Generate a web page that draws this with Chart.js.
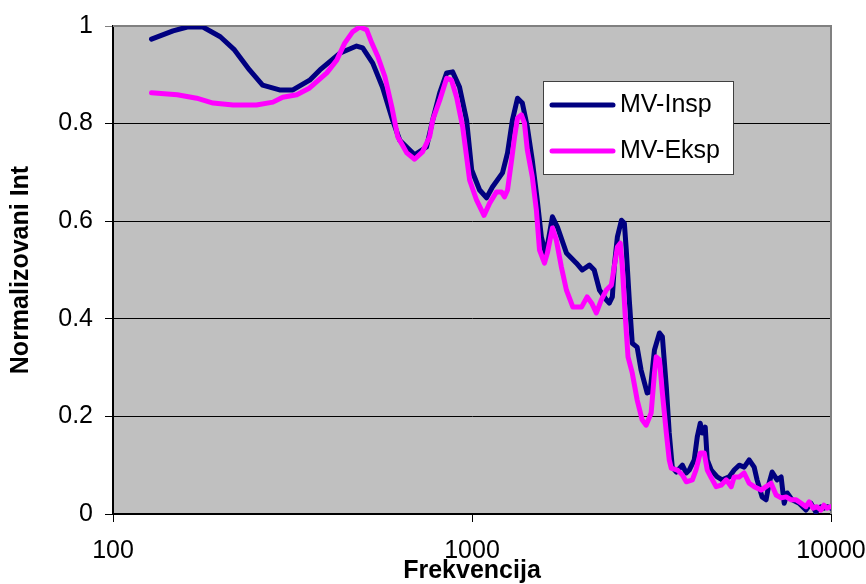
<!DOCTYPE html>
<html>
<head>
<meta charset="utf-8">
<script src="https://cdn.jsdelivr.net/npm/chart.js@4.4.1/dist/chart.umd.min.js"></script>
<style>
  html, body { margin: 0; padding: 0; background: #fff; }
</style>
</head>
<body>
<canvas id="chart" width="866" height="584"></canvas>
<script>
// frequency (Hz) and normalized intensity
const inspFreq = [128, 147, 161, 178, 199, 218, 240, 261, 291, 317,
                  353, 377, 428, 477, 496, 529, 563, 601, 629, 692,
                  747, 777, 813, 850, 883, 923, 966, 998, 1050, 1098,
                  1140, 1216, 1256, 1296, 1339, 1381, 1426, 1472, 1520, 1560,
                  1605, 1675, 1730, 1832, 1954, 2029, 2123, 2190, 2265, 2366,
                  2412, 2460, 2490, 2541, 2608, 2657, 2690, 2742, 2795, 2884,
                  2958, 3075, 3133, 3223, 3328, 3391, 3478, 3543, 3613, 3707,
                  3855, 3953, 4029, 4160, 4241, 4323, 4379, 4464, 4522, 4640,
                  4820, 4977, 5203, 5373, 5548, 5729, 5916, 6109, 6224, 6427,
                  6594, 6722, 6855, 7078, 7263, 7406, 7552, 7797, 8150, 8514,
                  8790, 9073, 9371, 9554, 9750, 10000];
const inspVal  = [0.973, 0.990, 0.998, 0.998, 0.978, 0.951, 0.910, 0.879, 0.869, 0.869,
                  0.889, 0.910, 0.944, 0.959, 0.955, 0.924, 0.875, 0.807, 0.766, 0.736,
                  0.752, 0.807, 0.863, 0.904, 0.906, 0.875, 0.807, 0.705, 0.664, 0.648,
                  0.670, 0.699, 0.740, 0.807, 0.852, 0.842, 0.793, 0.725, 0.643, 0.568,
                  0.531, 0.609, 0.588, 0.535, 0.514, 0.500, 0.510, 0.500, 0.459, 0.439,
                  0.432, 0.445, 0.506, 0.568, 0.602, 0.596, 0.541, 0.439, 0.350, 0.342,
                  0.295, 0.248, 0.250, 0.336, 0.371, 0.363, 0.260, 0.166, 0.096, 0.086,
                  0.100, 0.084, 0.090, 0.111, 0.158, 0.186, 0.166, 0.178, 0.111, 0.090,
                  0.076, 0.070, 0.076, 0.090, 0.100, 0.096, 0.111, 0.096, 0.070, 0.035,
                  0.029, 0.063, 0.086, 0.070, 0.076, 0.022, 0.043, 0.029, 0.022, 0.008,
                  0.022, 0.004, 0.015, 0.012, 0.015, 0.012];

const ekspFreq = [128, 151, 171, 190, 216, 251, 279, 297, 325, 353,
                  394, 420, 442, 465, 487, 509, 526, 547, 572, 598,
                  621, 658, 692, 728, 762, 777, 813, 850, 877, 906,
                  942, 985, 1030, 1080, 1120, 1170, 1208, 1232, 1256, 1289,
                  1314, 1339, 1373, 1400, 1426, 1472, 1511, 1542, 1592, 1622,
                  1675, 1718, 1774, 1832, 1910, 2019, 2093, 2155, 2220, 2292,
                  2366, 2444, 2490, 2541, 2589, 2623, 2673, 2720, 2795, 2884,
                  2978, 3055, 3155, 3223, 3260, 3328, 3391, 3478, 3543, 3589,
                  3733, 3855, 3953, 4110, 4205, 4323, 4436, 4522, 4640, 4790,
                  4943, 5107, 5273, 5373, 5548, 5729, 5916, 6109, 6386, 6594,
                  6810, 7033, 7263, 7500, 7745, 7998, 8259, 8514, 8694, 8914,
                  9131, 9371, 9554, 9750, 10000];
const ekspVal  = [0.863, 0.859, 0.852, 0.842, 0.838, 0.838, 0.844, 0.854, 0.859, 0.873,
                  0.904, 0.930, 0.965, 0.988, 0.998, 0.992, 0.965, 0.937, 0.896, 0.834,
                  0.773, 0.740, 0.727, 0.742, 0.773, 0.807, 0.848, 0.893, 0.889, 0.854,
                  0.793, 0.684, 0.643, 0.612, 0.637, 0.660, 0.660, 0.650, 0.664, 0.725,
                  0.773, 0.811, 0.818, 0.801, 0.746, 0.691, 0.623, 0.541, 0.514, 0.535,
                  0.586, 0.561, 0.506, 0.459, 0.424, 0.424, 0.445, 0.432, 0.412, 0.439,
                  0.459, 0.469, 0.506, 0.547, 0.555, 0.506, 0.404, 0.322, 0.289, 0.234,
                  0.193, 0.182, 0.207, 0.289, 0.322, 0.316, 0.248, 0.166, 0.111, 0.094,
                  0.090, 0.080, 0.066, 0.070, 0.090, 0.125, 0.125, 0.090, 0.074, 0.056,
                  0.059, 0.070, 0.056, 0.076, 0.076, 0.084, 0.063, 0.056, 0.049, 0.056,
                  0.063, 0.039, 0.033, 0.035, 0.029, 0.029, 0.022, 0.015, 0.025, 0.012,
                  0.015, 0.008, 0.018, 0.012, 0.015];

const xTicks = [100, 1000, 10000];
const yTicks = [0, 0.2, 0.4, 0.6, 0.8, 1];

Chart.defaults.font.family = "'Liberation Sans', Arial, sans-serif";
Chart.defaults.color = '#000';

// gray plot area and gray frame on top/right, like the old Excel look
const plotBg = {
    id: 'plotBg',
    beforeDraw(chart) {
        const { ctx, chartArea: a } = chart;
        ctx.save();
        ctx.fillStyle = '#fff';
        ctx.fillRect(0, 0, chart.width, chart.height);
        ctx.fillStyle = '#c0c0c0';
        ctx.fillRect(a.left, a.top, a.right - a.left, a.bottom - a.top);
        ctx.restore();
    },
    beforeDatasetsDraw(chart) {
        const { ctx, chartArea: a } = chart;
        ctx.save();
        ctx.strokeStyle = '#808080';
        ctx.lineWidth = 2;
        ctx.beginPath();
        ctx.moveTo(a.left, a.top);
        ctx.lineTo(a.right, a.top);
        ctx.lineTo(a.right, a.bottom);
        ctx.stroke();
        ctx.restore();
    }
};

// legend box inside the plot, top right
const boxLegend = {
    id: 'boxLegend',
    afterDraw(chart) {
        const { ctx } = chart;
        const x = 543, y = 81, w = 190, h = 93;
        ctx.save();
        ctx.fillStyle = '#fff';
        ctx.fillRect(x, y, w, h);
        ctx.strokeStyle = '#404040';
        ctx.lineWidth = 1;
        ctx.strokeRect(x + 0.5, y + 0.5, w, h);
        ctx.font = "25px 'Liberation Sans', Arial, sans-serif";
        ctx.textBaseline = 'middle';
        chart.data.datasets.forEach((ds, i) => {
            const ly = y + 24 + i * 46;
            ctx.strokeStyle = ds.borderColor;
            ctx.lineWidth = 5;
            ctx.lineCap = 'round';
            ctx.beginPath();
            ctx.moveTo(x + 9, ly);
            ctx.lineTo(x + 70, ly);
            ctx.stroke();
            ctx.fillStyle = '#000';
            ctx.fillText(ds.label, x + 77, ly);
        });
        ctx.restore();
    }
};

const ctx = document.getElementById('chart').getContext('2d');
const chart = new Chart(ctx, {
    type: 'line',
    data: {
        datasets: [{
            label: 'MV-Insp',
            data: inspFreq.map((f, i) => ({ x: f, y: inspVal[i] })),
            borderColor: '#000080',
            borderWidth: 5,
            borderCapStyle: 'round',
            borderJoinStyle: 'round',
            pointRadius: 0,
            tension: 0,
            order: 1
        }, {
            label: 'MV-Eksp',
            data: ekspFreq.map((f, i) => ({ x: f, y: ekspVal[i] })),
            borderColor: '#ff00ff',
            borderWidth: 5,
            borderCapStyle: 'round',
            borderJoinStyle: 'round',
            pointRadius: 0,
            tension: 0,
            order: 0
        }]
    },
    options: {
        responsive: false,
        animation: false,
        layout: { padding: { left: 0, top: 26, right: 35, bottom: 0 } },
        plugins: {
            legend: { display: false },
            tooltip: { enabled: false }
        },
        scales: {
            x: {
                type: 'logarithmic',
                min: 100,
                max: 10000,
                afterBuildTicks: s => { s.ticks = xTicks.map(v => ({ value: v })); },
                afterFit: s => {
                    s.height = 70;
                    s.paddingLeft = 0;
                    s.paddingRight = 0;
                },
                ticks: {
                    font: { size: 25 },
                    color: '#000',
                    padding: 14,
                    maxRotation: 0,
                    autoSkip: false,
                    callback: v => String(v)
                },
                grid: { drawOnChartArea: false, drawTicks: true, tickLength: 8, color: '#000' },
                border: { color: '#000', width: 2 },
                title: {
                    display: true,
                    text: 'Frekvencija',
                    color: '#000',
                    font: { size: 25, weight: 'bold', lineHeight: 1 },
                    padding: { top: 0, bottom: 0 }
                }
            },
            y: {
                min: 0,
                max: 1,
                afterBuildTicks: s => { s.ticks = yTicks.map(v => ({ value: v })); },
                afterFit: s => {
                    s.width = 113;
                    s.paddingTop = 0;
                    s.paddingBottom = 0;
                },
                ticks: {
                    font: { size: 25 },
                    color: '#000',
                    padding: 12,
                    callback: v => String(v)
                },
                grid: {
                    color: c => (c.tick && c.tick.value === 1 ? '#808080' : '#000'),
                    lineWidth: 1,
                    tickLength: 8
                },
                border: { color: '#000', width: 2 },
                title: {
                    display: true,
                    text: 'Normalizovani Int',
                    color: '#000',
                    font: { size: 25, weight: 'bold', lineHeight: 1 },
                    padding: { top: 9, bottom: 0 }
                }
            }
        }
    },
    plugins: [plotBg, boxLegend]
});
</script>
</body>
</html>
